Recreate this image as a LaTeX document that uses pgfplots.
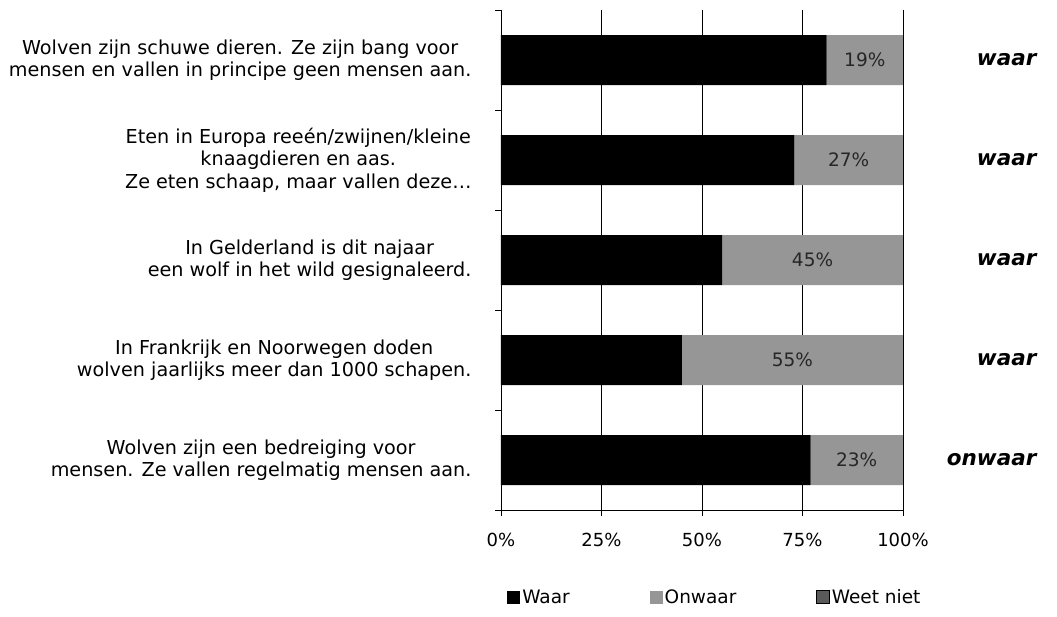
\documentclass[border=0pt]{standalone}
\usepackage{fontspec}
\setmainfont{DejaVu Sans}
\usepackage{pgfplots}
\usepackage{pgfplotstable}
\pgfplotsset{compat=1.18}
\definecolor{onw}{RGB}{150,150,150}
\definecolor{weet}{RGB}{90,90,90}

\pgfplotstableread{
idx waar onwaar
0 81 19
1 73 27
2 55 45
3 45 55
4 77 23
}\data

\begin{document}
\begin{tikzpicture}[font=\fontsize{19.2}{22.5}\selectfont]
\path[use as bounding box] (-501pt,-106pt) rectangle (556pt,510pt);
\begin{axis}[
  at={(0pt,0pt)}, anchor=south west,
  scale only axis, width=402pt, height=500pt, clip=false,
  xbar stacked, bar width=50pt,
  xmin=0, xmax=100, ymin=-0.5, ymax=4.5, y dir=reverse,
  axis lines*=left, axis line style={-, line width=0.8pt},
  /pgf/number format/assume math mode=true,
  xtick={0,25,50,75,100},
  xticklabels={0\%,25\%,50\%,75\%,100\%},
  xticklabel style={font=\fontsize{18}{21}\selectfont, yshift=-14pt},
  xmajorgrids, major grid style={black, line width=0.8pt},
  tick align=outside, major tick length=6pt, minor tick length=6pt,
  tick style={black, line width=0.8pt},
  ytick={0,...,4},
  major y tick style={draw=none},
  minor ytick={-0.5,0.5,...,4.5},
  yticklabels={
    {Wolven zijn schuwe dieren. Ze zijn bang voor\\mensen en vallen in principe geen mensen aan.},
    {Eten in Europa reeén/zwijnen/kleine\\knaagdieren en aas.\\Ze eten schaap, maar vallen deze\dots},
    {In Gelderland is dit najaar\\een wolf in het wild gesignaleerd.},
    {In Frankrijk en Noorwegen doden\\wolven jaarlijks meer dan 1000 schapen.},
    {Wolven zijn een bedreiging voor\\mensen. Ze vallen regelmatig mensen aan.}},
  yticklabel style={align=center, xshift=-20pt},
  legend columns=3,
  legend style={at={(0.532,-0.174)}, anchor=center, draw=none, fill=none,
    font=\fontsize{18.5}{22}\selectfont,
    /tikz/every even column/.append style={column sep=78pt}},
  legend image code/.code={\fill[#1] (0pt,-6.5pt) rectangle (13pt,6.5pt);},
]
\addplot[fill=black, draw=none] table[x=waar, y=idx] {\data};
\addlegendentry{Waar}
\addplot[fill=onw, draw=none,
  nodes near coords={\pgfmathprintnumber{\pgfplotspointmeta}\%},
  point meta=explicit,
  every node near coord/.append style={anchor=center,
    font=\fontsize{18.5}{21}\selectfont, text=black!85}]
  table[x=onwaar, y=idx, meta=onwaar] {\data};
\addlegendentry{Onwaar}
\addlegendimage{fill=weet}
\addlegendentry{Weet niet}
\node[anchor=east, xshift=137pt, font=\fontsize{21.5}{24}\selectfont\bfseries\itshape] at (axis cs:100,0) {waar};
\node[anchor=east, xshift=137pt, font=\fontsize{21.5}{24}\selectfont\bfseries\itshape] at (axis cs:100,1) {waar};
\node[anchor=east, xshift=137pt, font=\fontsize{21.5}{24}\selectfont\bfseries\itshape] at (axis cs:100,2) {waar};
\node[anchor=east, xshift=137pt, font=\fontsize{21.5}{24}\selectfont\bfseries\itshape] at (axis cs:100,3) {waar};
\node[anchor=east, xshift=137pt, font=\fontsize{21.5}{24}\selectfont\bfseries\itshape] at (axis cs:100,4) {onwaar};
\end{axis}
\end{tikzpicture}
\end{document}
